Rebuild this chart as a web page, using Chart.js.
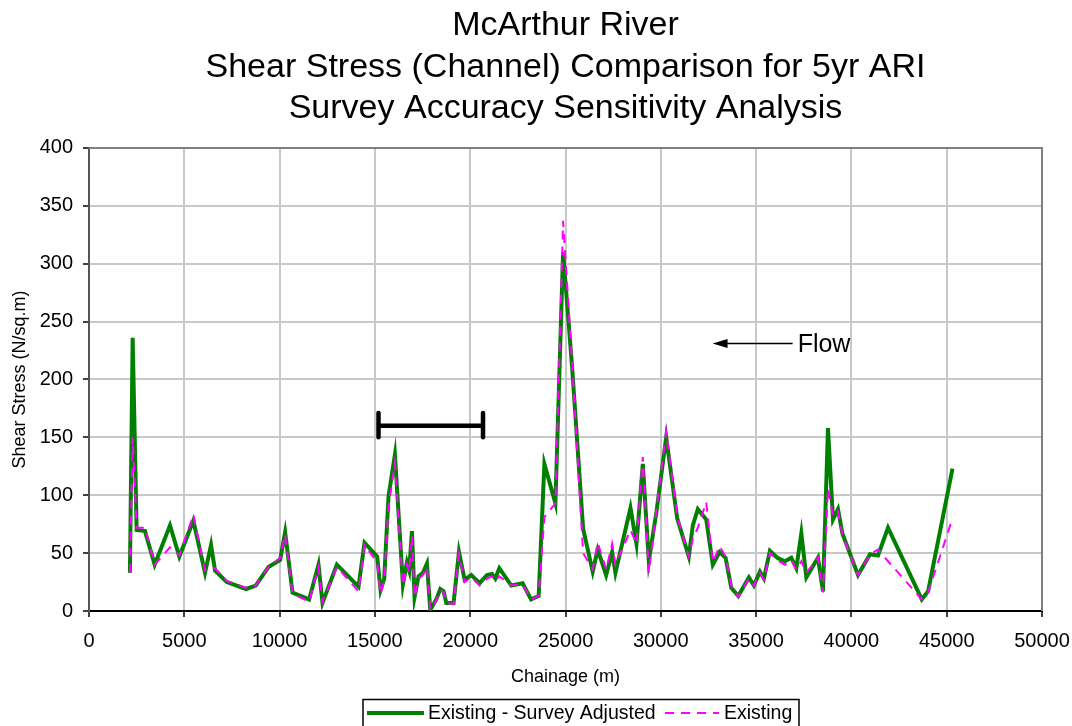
<!DOCTYPE html>
<html>
<head>
<meta charset="utf-8">
<script src="https://cdn.jsdelivr.net/npm/chart.js@4.4.1/dist/chart.umd.min.js"></script>
<style>
  html, body { margin: 0; padding: 0; background: #fff; }
  #wrap { width: 1072px; height: 726px; }
</style>
</head>
<body>
<div id="wrap"><canvas id="chart" width="1072" height="726"></canvas></div>
<script>
// Chainage (m) of each cross-section
const chainage = [
  2148, 2290, 2500, 2936, 3445, 4249, 4740, 5474, 6087, 6403,
  6612, 7227, 8240, 8750, 9413, 10026, 10290, 10677, 11550, 12040,
  12250, 13004, 14140, 14455, 15120, 15296, 15488, 15714, 16050, 16470,
  16680, 16800, 16943, 17080, 17290, 17520, 17730, 17905, 18220, 18430,
  18603, 18745, 19128, 19410, 19706, 20057, 20493, 20882, 21145, 21318,
  21528, 22158, 22752, 23193, 23593, 23892, 24470, 24874, 25346, 25924,
  26428, 26690, 27132, 27447, 27620, 28409, 28724, 29056, 29370, 29774,
  30282, 30860, 31470, 31680, 31943, 32384, 32730, 33083, 33398, 33697,
  34065, 34622, 34885, 35200, 35410, 35725, 36113, 36513, 36848, 37110,
  37373, 37636, 38246, 38508, 38771, 39034, 39297, 39527, 40348, 40977,
  41397, 41922, 43692, 44023, 45304
];

// Shear stress (N/sq.m) - survey adjusted
const adjusted = [
  33, 236, 70, 69, 40, 74, 47, 78, 33, 57,
  35, 25, 19, 22, 38, 44, 68, 16, 10, 40,
  7, 40, 21, 59, 47, 18, 28, 99, 135, 23,
  42, 35, 69, 12, 30, 33, 41, 1, 10, 19,
  17, 7, 7, 51, 27, 31, 24, 31, 32, 28,
  37, 22, 24, 10, 13, 127, 93, 310, 211, 71,
  34, 53, 31, 51, 33, 89, 58, 127, 43, 86,
  150, 80, 47, 74, 88, 79, 40, 51, 46, 20,
  13, 29, 22, 34, 28, 52, 46, 43, 46, 37,
  67, 29, 46, 17, 158, 79, 88, 67, 31, 49,
  48, 72, 10, 17, 123
];

// Shear stress (N/sq.m) - existing survey
const existing = [
  33, 150, 72, 72, 40, 55, 48, 83, 35, 37,
  37, 26, 20, 22, 38, 46, 66, 15, 8, 38,
  8, 38, 17, 57, 42, 15, 26, 90, 128, 22,
  40, 33, 65, 12, 28, 31, 38, 1, 9, 18,
  16, 7, 6, 49, 25, 29, 22, 28, 30, 26,
  30, 22, 23, 10, 13, 81, 93, 337, 215, 50,
  36, 59, 36, 58, 40, 70, 58, 133, 33, 88,
  155, 82, 47, 62, 72, 94, 42, 56, 47, 22,
  12, 28, 22, 33, 27, 50, 44, 40, 44, 36,
  43, 33, 46, 16, 106, 82, 86, 66, 31, 49,
  53, 43, 10, 16, 80
];

const seriesNames = ["Existing - Survey Adjusted", "Existing"];
const titleLines = [
  "McArthur River",
  "Shear Stress (Channel) Comparison for 5yr ARI",
  "Survey Accuracy Sensitivity Analysis"
];

// scale bar (chainage range) and its level / cap heights
const scaleBarX = [15189, 20672];
const scaleBarY = [160, 171, 150];

// flow arrow: tail, tip, level
const flowArrowX = [36917, 32715];
const flowArrowY = 231;
const flowLabel = "Flow";

const FONT = "'Liberation Sans', Arial, sans-serif";

function toPoints(xs, ys) {
  return xs.map((x, i) => ({ x: x, y: ys[i] }));
}

const barPoints = [
  { x: scaleBarX[0], y: scaleBarY[1] },
  { x: scaleBarX[0], y: scaleBarY[2] },
  { x: scaleBarX[0], y: scaleBarY[0] },
  { x: scaleBarX[1], y: scaleBarY[0] },
  { x: scaleBarX[1], y: scaleBarY[1] },
  { x: scaleBarX[1], y: scaleBarY[2] }
];

// frame on the top / right of the plot area
const framePlugin = {
  id: "frame",
  beforeDatasetsDraw(chart) {
    const { ctx, chartArea: a } = chart;
    ctx.save();
    ctx.strokeStyle = "#808080";
    ctx.lineWidth = 2;
    ctx.beginPath();
    ctx.moveTo(a.left, a.top);
    ctx.lineTo(a.right, a.top);
    ctx.lineTo(a.right, a.bottom);
    ctx.stroke();
    ctx.restore();
  }
};

// flow arrow and label
const flowPlugin = {
  id: "flow",
  afterDatasetsDraw(chart) {
    const { ctx } = chart;
    const xs = chart.scales.x, ys = chart.scales.y;
    const tail = xs.getPixelForValue(flowArrowX[0]);
    const tip = xs.getPixelForValue(flowArrowX[1]);
    const y = ys.getPixelForValue(flowArrowY);
    ctx.save();
    ctx.strokeStyle = "#000";
    ctx.fillStyle = "#000";
    ctx.lineWidth = 1.5;
    ctx.beginPath();
    ctx.moveTo(tail, y);
    ctx.lineTo(tip + 10, y);
    ctx.stroke();
    ctx.beginPath();
    ctx.moveTo(tip, y);
    ctx.lineTo(tip + 15, y - 4.5);
    ctx.lineTo(tip + 15, y + 4.5);
    ctx.closePath();
    ctx.fill();
    ctx.font = "25px " + FONT;
    ctx.textAlign = "left";
    ctx.textBaseline = "middle";
    ctx.fillText(flowLabel, tail + 5, y + 2);
    ctx.restore();
  }
};

// boxed legend below the axis title
const legendPlugin = {
  id: "boxLegend",
  afterDraw(chart) {
    const { ctx } = chart;
    const ds = chart.data.datasets;
    ctx.save();
    ctx.strokeStyle = "#000";
    ctx.lineWidth = 1.5;
    ctx.strokeRect(363, 699.5, 436, 40);
    ctx.font = "19.5px " + FONT;
    ctx.textBaseline = "middle";
    ctx.fillStyle = "#000";
    const items = [
      { d: ds[1], x0: 367, x1: 424, tx: 428 },
      { d: ds[0], x0: 665, x1: 719, tx: 724 }
    ];
    items.forEach((it) => {
      ctx.strokeStyle = it.d.borderColor;
      ctx.lineWidth = it.d.borderWidth;
      ctx.setLineDash(it.d.borderDash || []);
      ctx.beginPath();
      ctx.moveTo(it.x0, 713);
      ctx.lineTo(it.x1, 713);
      ctx.stroke();
      ctx.setLineDash([]);
      ctx.fillText(it.d.label, it.tx, 714);
    });
    ctx.restore();
  }
};

new Chart(document.getElementById("chart").getContext("2d"), {
  type: "line",
  data: {
    datasets: [
      {
        label: seriesNames[1],
        data: toPoints(chainage, existing),
        borderColor: "#ff00ff",
        borderWidth: 2,
        borderDash: [9, 7],
        pointRadius: 0,
        tension: 0,
        order: 0
      },
      {
        label: seriesNames[0],
        data: toPoints(chainage, adjusted),
        borderColor: "#008000",
        borderWidth: 4,
        pointRadius: 0,
        tension: 0,
        order: 1
      },
      {
        label: "scale",
        data: barPoints,
        borderColor: "#000",
        borderWidth: 4.5,
        borderCapStyle: "round",
        borderJoinStyle: "round",
        pointRadius: 0,
        tension: 0,
        order: 2
      }
    ]
  },
  options: {
    responsive: false,
    animation: false,
    events: [],
    layout: { padding: { left: 0, right: 30, top: 0, bottom: 0 } },
    plugins: {
      legend: { display: false },
      tooltip: { enabled: false },
      title: {
        display: true,
        fullSize: false,
        text: titleLines,
        color: "#000",
        font: { family: FONT, size: 34, weight: "normal", lineHeight: 1.22 },
        padding: { top: 5, bottom: 18.5 }
      }
    },
    scales: {
      x: {
        type: "linear",
        min: 0,
        max: 50000,
        afterFit(scale) {
          scale.height = 115;
          scale.paddingRight = 10;
          scale.paddingLeft = 10;
        },
        ticks: {
          stepSize: 5000,
          color: "#000",
          padding: 12,
          maxRotation: 0,
          font: { family: FONT, size: 20 },
          callback: (v) => String(v)
        },
        grid: { color: "#c8c8c8", lineWidth: 2, tickLength: 6, tickColor: "#000", tickWidth: 1.5 },
        border: { color: "#000", width: 2 },
        title: {
          display: true,
          text: "Chainage (m)",
          color: "#000",
          font: { family: FONT, size: 18 },
          padding: { top: 0, bottom: 38 }
        }
      },
      y: {
        type: "linear",
        min: 0,
        max: 400,
        afterFit(scale) { scale.width = 89; },
        ticks: {
          stepSize: 50,
          color: "#000",
          padding: 10,
          font: { family: FONT, size: 20 }
        },
        grid: { color: "#c8c8c8", lineWidth: 2, tickLength: 6, tickColor: "#000", tickWidth: 1.5 },
        border: { color: "#555", width: 2 },
        title: {
          display: true,
          text: "Shear Stress (N/sq.m)",
          color: "#000",
          font: { family: FONT, size: 18 },
          padding: { top: 9, bottom: 0 }
        }
      }
    }
  },
  plugins: [framePlugin, flowPlugin, legendPlugin]
});
</script>
</body>
</html>
